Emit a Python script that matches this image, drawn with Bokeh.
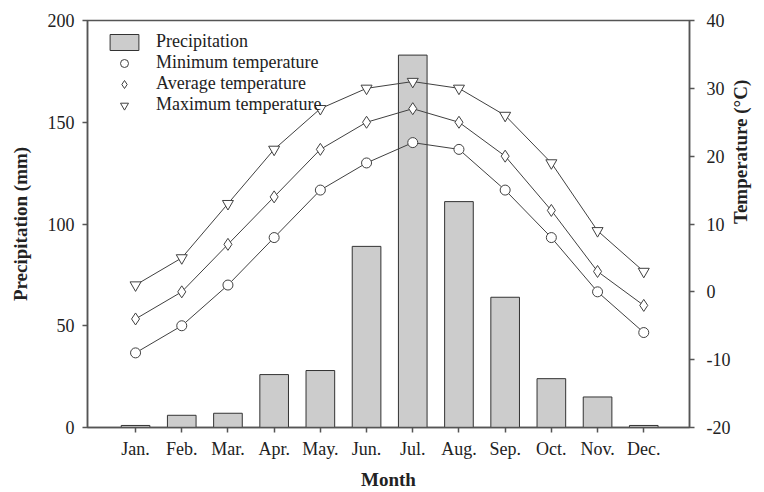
from bokeh.plotting import figure
from bokeh.models import (Range1d, LinearAxis, FixedTicker, SingleIntervalTicker,
                          Legend, LegendItem)
from bokeh.embed import file_html
from bokeh.resources import INLINE
import math

# Monthly climate data
months = ["Jan.", "Feb.", "Mar.", "Apr.", "May.", "Jun.",
          "Jul.", "Aug.", "Sep.", "Oct.", "Nov.", "Dec."]
precipitation = [1, 6, 7, 26, 28, 89, 183, 111, 64, 24, 15, 1]      # mm
min_temp = [-9, -5, 1, 8, 15, 19, 22, 21, 15, 8, 0, -6]             # °C
avg_temp = [-4, 0, 7, 14, 21, 25, 27, 25, 20, 12, 3, -2]            # °C
max_temp = [1, 5, 13, 21, 27, 30, 31, 30, 26, 19, 9, 3]             # °C
temp_ticks = [-20, -10, 0, 10, 20, 30, 40]

xs = list(range(len(months)))

FONT = "Liberation Serif"
AXIS_COLOR = "#555555"
TEXT_COLOR = "#222222"
MARK_COLOR = "#404040"

p = figure(width=764, height=492, output_backend="svg", toolbar_location=None,
           x_range=Range1d(-1.04, 11.99), y_range=Range1d(0, 200),
           min_border_left=87, min_border_right=75,
           min_border_top=20, min_border_bottom=65,
           background_fill_color="white", border_fill_color="white")
p.grid.visible = False
p.outline_line_color = AXIS_COLOR
p.outline_line_width = 1.5

# Left axis: precipitation
p.yaxis.ticker = SingleIntervalTicker(interval=50)
p.yaxis.axis_label = "Precipitation (mm)"

# Right axis: temperature, labels with a plain hyphen for negatives
p.extra_y_ranges = {"temp": Range1d(-20, 40)}
taxis = LinearAxis(y_range_name="temp", ticker=FixedTicker(ticks=temp_ticks),
                   axis_label="Temperature (°C)")
taxis.major_label_overrides = {t: str(t) for t in temp_ticks}
taxis.axis_label_orientation = math.pi / 2
p.add_layout(taxis, "right")

# Bottom axis: months
p.xaxis.ticker = FixedTicker(ticks=xs)
p.xaxis.major_label_overrides = {i: m for i, m in enumerate(months)}
p.xaxis.axis_label = "Month"

for ax in [p.xaxis[0], p.yaxis[0], taxis]:
    ax.axis_line_color = AXIS_COLOR
    ax.axis_line_width = 1.5
    ax.major_tick_line_color = AXIS_COLOR
    ax.major_tick_line_width = 1.5
    ax.major_tick_out = 5
    ax.major_tick_in = 0
    ax.minor_tick_line_color = None
    ax.major_label_text_font = FONT
    ax.major_label_text_font_size = "18px"
    ax.major_label_text_color = TEXT_COLOR
    ax.axis_label_text_font = FONT
    ax.axis_label_text_font_size = "19px"
    ax.axis_label_text_font_style = "bold"
    ax.axis_label_text_color = TEXT_COLOR

p.xaxis.major_label_standoff = 6
p.xaxis.axis_label_standoff = 7
p.yaxis.major_label_standoff = 8
p.yaxis.axis_label_standoff = 14
taxis.major_label_standoff = 12
taxis.axis_label_standoff = 7

# Precipitation bars
bars = p.vbar(x=xs, top=precipitation, bottom=0, width=0.62,
              fill_color="#cccccc", line_color="#333333", line_width=1)

# Temperature series
series = [
    ("Minimum temperature", min_temp, dict(marker="circle", size=10)),
    ("Average temperature", avg_temp, dict(marker="diamond", size=12)),
    ("Maximum temperature", max_temp, dict(marker="inverted_triangle", size=11)),
]
items = [LegendItem(label="Precipitation", renderers=[bars])]
for label, vals, mk in series:
    p.line(xs, vals, y_range_name="temp", line_color=MARK_COLOR, line_width=1)
    r = p.scatter(xs, vals, y_range_name="temp", fill_color="white",
                  line_color=MARK_COLOR, line_width=1, **mk)
    items.append(LegendItem(label=label, renderers=[r]))

legend = Legend(items=items, location=(19, 312), margin=0, padding=0, spacing=0,
                glyph_width=36, glyph_height=20, label_height=20, label_standoff=14,
                border_line_color=None, background_fill_alpha=0,
                label_text_font=FONT, label_text_font_size="18px",
                label_text_color=TEXT_COLOR)
p.add_layout(legend)

open("out.html", "w").write(file_html(p, INLINE))
